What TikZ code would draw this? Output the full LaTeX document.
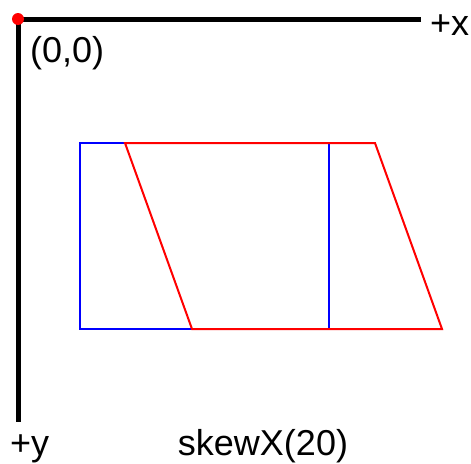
\documentclass[tikz,border=0pt]{standalone}
\usepackage{fontspec}
\setmainfont{Liberation Sans}
\usetikzlibrary{positioning}

\tikzset{
  axis/.style={line width=5pt},
  lbl/.style={inner sep=0pt, font=\fontsize{36}{40}\selectfont},
  bluebox/.style={draw=blue, line width=2pt},
  redbox/.style={draw=red, line width=2pt, line join=miter},
}

\begin{document}
\begin{tikzpicture}[x=1pt, y=-1pt]

  \useasboundingbox (0,0) rectangle (471,463);

  \coordinate (o)    at (18,19);
  \coordinate (xend) at (421,19);
  \coordinate (yend) at (18,422);

  \draw[axis] (xend) -- (o) -- (yend);
  \fill[red] (o) circle (6);

  \node[lbl, anchor=base west] (xlab)  at (430,35)  {+x};
  \node[lbl, anchor=base west] (ylab)  at (10,455)  {+y};
  \node[lbl, anchor=base west] (olab)  at (30,62)   {(0,0)};
  \node[lbl, anchor=base]      (title) at (263,455) {skewX(20)};

  \draw[bluebox] (80,143) rectangle (329,329);
  \draw[redbox] (125,143) -- (375,143) -- (442,329) -- (192,329) -- cycle;

\end{tikzpicture}
\end{document}
